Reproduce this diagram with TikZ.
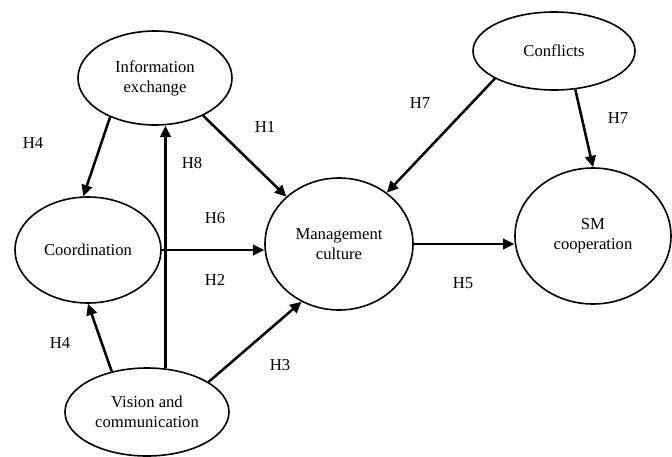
\documentclass[tikz,border=0pt]{standalone}
\usepackage{fontspec}
\setmainfont{Liberation Serif}
\usetikzlibrary{shapes.geometric,arrows.meta}

\begin{document}
\begin{tikzpicture}[x=0.75pt,y=-0.75pt,
  var/.style={ellipse,draw,line width=1.2pt,inner sep=0pt,align=center,
    font=\fontsize{12.5}{15}\selectfont},
  hyp/.style={-{Triangle[length=8.5pt,width=8pt]},line width=1.9pt},
  hlabel/.style={font=\fontsize{12.5}{15}\selectfont}]
\useasboundingbox (0,0) rectangle (672,457);

% constructs
\node[var,minimum width=115.5pt,minimum height=70.5pt] (info) at (155,78) {Information\\exchange};
\node[var,minimum width=109.5pt,minimum height=79.5pt] (coord) at (88,250) {Coordination};
\node[var,minimum width=123pt,minimum height=66pt] (vision) at (147,412) {Vision and\\communication};
\node[var,minimum width=111pt,minimum height=99pt] (mgmt) at (339,244) {Management\\culture};
\node[var,minimum width=117pt,minimum height=102pt] (smcoop) at (593,236) {SM\\cooperation};
\node[var,minimum width=121.5pt,minimum height=58.5pt] (conflicts) at (554,51) {Conflicts};

% hypotheses
\draw[hyp] (info.221) -- (coord.95);
\draw[hyp] (vision.67) -- (vision.67 |- info.south);
\draw[hyp] (info.322) -- (mgmt.138);
\draw[hyp] (coord.east) -- (coord.east -| mgmt.west);
\draw[hyp] (vision.131) -- (coord.south);
\draw[hyp] (vision.26) -- (mgmt.237);
\draw[hyp] (conflicts.205) -- (mgmt.47);
\draw[hyp] (conflicts.299) -- (smcoop.north);
\draw[hyp] (mgmt.east) -- (mgmt.east -| smcoop.west);

\node[hlabel] (h4a) at (33,143) {H4};
\node[hlabel] (h1) at (265,127) {H1};
\node[hlabel] (h8) at (192,163) {H8};
\node[hlabel] (h6) at (215,218) {H6};
\node[hlabel] (h2) at (215,280) {H2};
\node[hlabel] (h4b) at (60,343) {H4};
\node[hlabel] (h3) at (280,365) {H3};
\node[hlabel] (h7a) at (420,103) {H7};
\node[hlabel] (h7b) at (618,118) {H7};
\node[hlabel] (h5) at (463,283) {H5};
\end{tikzpicture}
\end{document}
